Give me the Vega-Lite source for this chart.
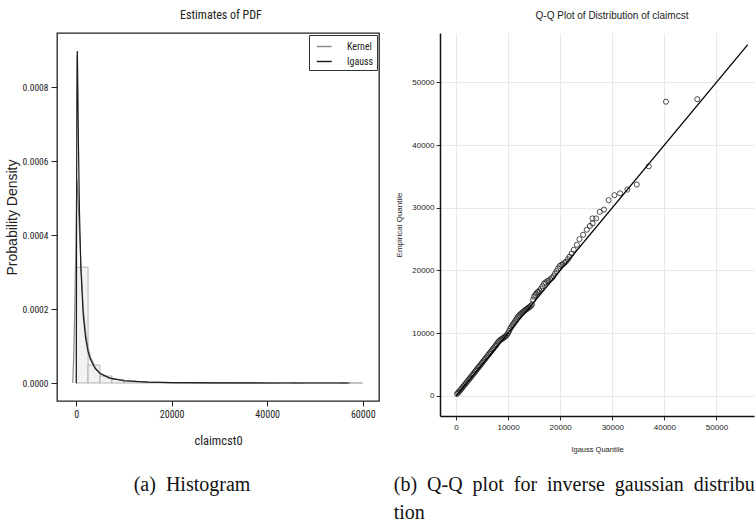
{
  "$schema": "https://vega.github.io/schema/vega-lite/v6.json",
  "background": "white",
  "padding": {"left": 4, "top": 8, "right": 0, "bottom": 0},
  "config": {
    "view": {"stroke": null},
    "title": {"fontWeight": "normal", "color": "#222"},
    "axis": {"labelColor": "#222", "titleColor": "#222", "tickColor": "#333", "titleFontWeight": "normal"}
  },
  "spacing": 13,
  "resolve": {"scale": {"color": "independent"}, "legend": {"color": "independent"}},
  "hconcat": [
    {
      "title": {"text": "(a) \u00a0Histogram", "orient": "bottom", "anchor": "middle", "font": "Liberation Serif", "fontSize": 20, "offset": 28, "color": "#111"},
      "resolve": {"scale": {"color": "independent"}, "legend": {"color": "independent"}},
      "vconcat": [
        {
          "width": 322,
          "height": 368,
          "title": {"text": "Estimates of PDF", "font": "Liberation Sans Narrow, Arial Narrow, Roboto Condensed, DejaVu Sans Condensed, Liberation Sans", "fontSize": 12, "offset": 11, "dx": 3},
          "view": {"stroke": "#222", "strokeWidth": 1.3},
          "layer": [
            {
              "mark": {"type": "rule", "color": "#e4e4e4", "strokeWidth": 1},
              "encoding": {"x": {"datum": 0, "type": "quantitative", "scale": {"domain": [-4000, 63400], "nice": false, "zero": false}}}
            },
            {
              "mark": {"type": "rule", "color": "#e4e4e4", "strokeWidth": 1},
              "encoding": {"y": {"datum": 0, "type": "quantitative", "scale": {"domain": [-0.0000486, 0.000946], "nice": false, "zero": false}}}
            },
            {
              "data": {"values": [
                {"x": 0, "x2": 2500, "y": 0.000313},
                {"x": 2500, "x2": 5000, "y": 0.0000486},
                {"x": 5000, "x2": 7500, "y": 0.0000189},
                {"x": 7500, "x2": 10000, "y": 0.0000100},
                {"x": 10000, "x2": 12500, "y": 0.0000055},
                {"x": 12500, "x2": 15000, "y": 0.0000032},
                {"x": 15000, "x2": 17500, "y": 0.0000020},
                {"x": 17500, "x2": 20000, "y": 0.0000014},
                {"x": 20000, "x2": 22500, "y": 0.0000010},
                {"x": 22500, "x2": 25000, "y": 0.0000008},
                {"x": 25000, "x2": 27500, "y": 0.0000006},
                {"x": 27500, "x2": 30000, "y": 0.0000005},
                {"x": 30000, "x2": 32500, "y": 0.0000004},
                {"x": 32500, "x2": 35000, "y": 0.0000002},
                {"x": 35000, "x2": 37500, "y": 0.0000002},
                {"x": 37500, "x2": 40000, "y": 0.0000001},
                {"x": 40000, "x2": 42500, "y": 0.0000001},
                {"x": 45000, "x2": 47500, "y": 0.0000002},
                {"x": 55000, "x2": 57500, "y": 0.0000001}
              ]},
              "mark": {"type": "rect", "fill": "#f2f2f2", "stroke": "#9a9a9a", "strokeWidth": 0.7},
              "encoding": {
                "x": {"field": "x", "type": "quantitative", "scale": {"domain": [-4000, 63400], "nice": false, "zero": false},
                  "axis": {"title": "claimcst0", "values": [0, 20000, 40000, 60000], "format": "d", "domain": false, "grid": false, "tickSize": 5, "tickColor": "#222", "labelFont": "Liberation Sans Narrow, Arial Narrow, Roboto Condensed, DejaVu Sans Condensed, Liberation Sans", "labelFontSize": 10, "labelPadding": 3, "titleFont": "Liberation Sans Narrow, Arial Narrow, Roboto Condensed, DejaVu Sans Condensed, Liberation Sans", "titleFontSize": 12.5, "titlePadding": 15}},
                "x2": {"field": "x2"},
                "y": {"field": "y", "type": "quantitative", "scale": {"domain": [-0.0000486, 0.000946], "nice": false, "zero": false},
                  "axis": {"title": "Probability Density", "values": [0, 0.0002, 0.0004, 0.0006, 0.0008], "format": ".4f", "domain": false, "grid": false, "tickSize": 6, "tickColor": "#222", "labelFont": "Liberation Sans Narrow, Arial Narrow, Roboto Condensed, DejaVu Sans Condensed, Liberation Sans", "labelFontSize": 9.5, "labelPadding": 3, "titleFont": "Liberation Sans", "titleFontSize": 14, "titlePadding": 3}},
                "y2": {"datum": 0}
              }
            },
            {
              "data": {"values": [
                {"x": -700, "y": 0, "curve": "Kernel"},
                {"x": -500, "y": 0.00007, "curve": "Kernel"},
                {"x": -300, "y": 0.00019, "curve": "Kernel"},
                {"x": -100, "y": 0.00033, "curve": "Kernel"},
                {"x": 50, "y": 0.00047, "curve": "Kernel"},
                {"x": 150, "y": 0.00055, "curve": "Kernel"},
                {"x": 300, "y": 0.00053, "curve": "Kernel"},
                {"x": 500, "y": 0.00047, "curve": "Kernel"},
                {"x": 700, "y": 0.00041, "curve": "Kernel"},
                {"x": 1000, "y": 0.00032, "curve": "Kernel"},
                {"x": 1500, "y": 0.0002, "curve": "Kernel"},
                {"x": 2000, "y": 0.000135, "curve": "Kernel"},
                {"x": 2500, "y": 0.000095, "curve": "Kernel"},
                {"x": 3000, "y": 0.00007, "curve": "Kernel"},
                {"x": 4000, "y": 0.000042, "curve": "Kernel"},
                {"x": 5000, "y": 0.000027, "curve": "Kernel"},
                {"x": 7000, "y": 0.000014, "curve": "Kernel"},
                {"x": 10000, "y": 0.0000065, "curve": "Kernel"},
                {"x": 15000, "y": 0.0000025, "curve": "Kernel"},
                {"x": 20000, "y": 0.0000012, "curve": "Kernel"},
                {"x": 30000, "y": 0.0000005, "curve": "Kernel"},
                {"x": 40000, "y": 0.0000003, "curve": "Kernel"},
                {"x": 50000, "y": 0.0000002, "curve": "Kernel"},
                {"x": 60000, "y": 0, "curve": "Kernel"},
                {"x": 0, "y": 0, "curve": "Igauss"},
                {"x": 25, "y": 0.0000001, "curve": "Igauss"},
                {"x": 50, "y": 0.0000322, "curve": "Igauss"},
                {"x": 75, "y": 0.0001927, "curve": "Igauss"},
                {"x": 100, "y": 0.0004144, "curve": "Igauss"},
                {"x": 150, "y": 0.0007457, "curve": "Igauss"},
                {"x": 200, "y": 0.0008788, "curve": "Igauss"},
                {"x": 250, "y": 0.000897, "curve": "Igauss"},
                {"x": 300, "y": 0.0008638, "curve": "Igauss"},
                {"x": 400, "y": 0.0007507, "curve": "Igauss"},
                {"x": 500, "y": 0.0006374, "curve": "Igauss"},
                {"x": 700, "y": 0.0004644, "curve": "Igauss"},
                {"x": 1000, "y": 0.000309, "curve": "Igauss"},
                {"x": 1500, "y": 0.0001814, "curve": "Igauss"},
                {"x": 2000, "y": 0.0001197, "curve": "Igauss"},
                {"x": 2500, "y": 0.0000849, "curve": "Igauss"},
                {"x": 3000, "y": 0.0000633, "curve": "Igauss"},
                {"x": 4000, "y": 0.0000388, "curve": "Igauss"},
                {"x": 5000, "y": 0.0000258, "curve": "Igauss"},
                {"x": 7000, "y": 0.0000133, "curve": "Igauss"},
                {"x": 10000, "y": 0.0000061, "curve": "Igauss"},
                {"x": 15000, "y": 0.0000022, "curve": "Igauss"},
                {"x": 20000, "y": 0.0000009, "curve": "Igauss"},
                {"x": 30000, "y": 0.0000002, "curve": "Igauss"},
                {"x": 40000, "y": 0.0000001, "curve": "Igauss"},
                {"x": 57000, "y": 0, "curve": "Igauss"}
              ]},
              "mark": {"type": "line", "strokeWidth": 1.2},
              "encoding": {
                "x": {"field": "x", "type": "quantitative", "scale": {"domain": [-4000, 63400], "nice": false, "zero": false}},
                "y": {"field": "y", "type": "quantitative", "scale": {"domain": [-0.0000486, 0.000946], "nice": false, "zero": false}},
                "color": {"field": "curve", "type": "nominal", "sort": ["Kernel", "Igauss"],
                  "scale": {"domain": ["Kernel", "Igauss"], "range": ["#8a8a8a", "#1e1e1e"]},
                  "legend": {"title": null, "orient": "top-right", "offset": 2, "padding": 3, "strokeColor": "#333", "fillColor": "white", "symbolType": "M-0.5,0H1.5", "symbolSize": 225, "symbolStrokeWidth": 1.5, "labelFont": "Liberation Sans Narrow, Arial Narrow, Roboto Condensed, DejaVu Sans Condensed, Liberation Sans", "labelFontSize": 10, "labelColor": "#222", "labelOffset": 18, "rowPadding": 1, "cornerRadius": 0}}
              }
            }
          ]
        }
      ]
    },
    {
      "title": {"text": ["(b) \u00a0Q-Q \u00a0plot \u00a0for \u00a0inverse \u00a0gaussian \u00a0distribu", "tion"], "orient": "bottom", "anchor": "start", "font": "Liberation Serif", "fontSize": 20, "lineHeight": 28, "offset": 22, "dx": -2, "color": "#111"},
      "vconcat": [
        {
          "width": 314,
          "height": 383,
          "title": {"text": "Q-Q Plot of Distribution of claimcst", "font": "Liberation Sans", "fontSize": 10, "offset": 12, "dx": 15},
          "view": {"stroke": null},
          "layer": [
            {
              "mark": {"type": "rule", "color": "#111", "strokeWidth": 1.5},
              "encoding": {"y": {"datum": 57850, "type": "quantitative", "scale": {"domain": [-3190, 57850], "nice": false, "zero": false}}}
            },
            {
              "data": {"values": [
                {"x": 200, "y": 330}, {"x": 400, "y": 520}, {"x": 600, "y": 700}, {"x": 800, "y": 900}, {"x": 1000, "y": 1110},
                {"x": 1200, "y": 1320}, {"x": 1400, "y": 1520}, {"x": 1600, "y": 1720}, {"x": 1800, "y": 1930}, {"x": 2000, "y": 2140},
                {"x": 2200, "y": 2350}, {"x": 2400, "y": 2560}, {"x": 2600, "y": 2760}, {"x": 2800, "y": 2960}, {"x": 3000, "y": 3180},
                {"x": 3200, "y": 3390}, {"x": 3400, "y": 3600}, {"x": 3600, "y": 3800}, {"x": 3800, "y": 4010}, {"x": 4000, "y": 4230},
                {"x": 4200, "y": 4440}, {"x": 4400, "y": 4640}, {"x": 4600, "y": 4850}, {"x": 4800, "y": 5060}, {"x": 5000, "y": 5280},
                {"x": 5200, "y": 5490}, {"x": 5400, "y": 5700}, {"x": 5600, "y": 5910}, {"x": 5800, "y": 6120}, {"x": 6000, "y": 6340},
                {"x": 6200, "y": 6550}, {"x": 6400, "y": 6760}, {"x": 6600, "y": 6960}, {"x": 6800, "y": 7170}, {"x": 7000, "y": 7390},
                {"x": 7200, "y": 7590}, {"x": 7400, "y": 7800}, {"x": 7600, "y": 8010}, {"x": 7800, "y": 8240}, {"x": 8000, "y": 8480},
                {"x": 8200, "y": 8700}, {"x": 8400, "y": 8860}, {"x": 8600, "y": 8980}, {"x": 8800, "y": 9090}, {"x": 9000, "y": 9200},
                {"x": 9200, "y": 9320}, {"x": 9400, "y": 9440}, {"x": 9600, "y": 9580}, {"x": 9800, "y": 9760}, {"x": 10000, "y": 10020},
                {"x": 10200, "y": 10350}, {"x": 10400, "y": 10700}, {"x": 10600, "y": 10990}, {"x": 10800, "y": 11250}, {"x": 11000, "y": 11480},
                {"x": 11200, "y": 11720}, {"x": 11400, "y": 11980}, {"x": 11600, "y": 12250}, {"x": 11800, "y": 12500}, {"x": 12000, "y": 12720},
                {"x": 12200, "y": 12900}, {"x": 12400, "y": 13060}, {"x": 12600, "y": 13200}, {"x": 12800, "y": 13340}, {"x": 13000, "y": 13480},
                {"x": 13200, "y": 13620}, {"x": 13400, "y": 13760}, {"x": 13600, "y": 13880}, {"x": 13800, "y": 14000}, {"x": 14000, "y": 14120},
                {"x": 14200, "y": 14250}, {"x": 14400, "y": 14400}, {"x": 14600, "y": 14600}, {"x": 14800, "y": 15300}, {"x": 15000, "y": 15800},
                {"x": 15200, "y": 16100}, {"x": 15400, "y": 16300}, {"x": 15600, "y": 16500}, {"x": 15800, "y": 16600}, {"x": 16000, "y": 16800},
                {"x": 16300, "y": 17100}, {"x": 16600, "y": 17500}, {"x": 16900, "y": 17900}, {"x": 17200, "y": 18100}, {"x": 17500, "y": 18300},
                {"x": 17800, "y": 18400}, {"x": 18100, "y": 18600}, {"x": 18400, "y": 18800}, {"x": 18700, "y": 19100}, {"x": 19000, "y": 19500},
                {"x": 19300, "y": 19900}, {"x": 19600, "y": 20300}, {"x": 19900, "y": 20700}, {"x": 20200, "y": 20900}, {"x": 20500, "y": 21000},
                {"x": 20800, "y": 21200}, {"x": 21100, "y": 21400}, {"x": 21500, "y": 21800}, {"x": 21800, "y": 22200}, {"x": 22200, "y": 22700},
                {"x": 22600, "y": 23300}, {"x": 23200, "y": 24100}, {"x": 23700, "y": 25000}, {"x": 24400, "y": 25700}, {"x": 25100, "y": 26500},
                {"x": 25700, "y": 27100}, {"x": 26200, "y": 27500}, {"x": 26200, "y": 28300}, {"x": 26900, "y": 28300}, {"x": 27600, "y": 29350},
                {"x": 28400, "y": 29700}, {"x": 29300, "y": 31200}, {"x": 30400, "y": 32000}, {"x": 31500, "y": 32300}, {"x": 32900, "y": 32900},
                {"x": 34700, "y": 33700}, {"x": 37000, "y": 36600}, {"x": 40300, "y": 46900}, {"x": 46300, "y": 47300}
              ]},
              "mark": {"type": "point", "shape": "circle", "filled": false, "color": "#222", "size": 26, "strokeWidth": 0.8, "opacity": 1},
              "encoding": {
                "x": {"field": "x", "type": "quantitative", "scale": {"domain": [-3070, 57200], "nice": false, "zero": false},
                  "axis": {"title": "Igauss Quantile", "values": [0, 10000, 20000, 30000, 40000, 50000], "format": "d", "grid": true, "gridColor": "#e8e8e8", "domain": true, "domainColor": "#111", "domainWidth": 1.5, "tickSize": 4, "labelFont": "Liberation Sans", "labelFontSize": 8, "labelPadding": 3, "titleFont": "Liberation Sans", "titleFontSize": 7.5, "titlePadding": 14}},
                "y": {"field": "y", "type": "quantitative", "scale": {"domain": [-3190, 57850], "nice": false, "zero": false},
                  "axis": {"title": "Empirical Quantile", "values": [0, 10000, 20000, 30000, 40000, 50000], "format": "d", "grid": true, "gridColor": "#e8e8e8", "domain": true, "domainColor": "#111", "domainWidth": 1.5, "tickSize": 4, "labelFont": "Liberation Sans", "labelFontSize": 8, "labelPadding": 2, "titleFont": "Liberation Sans", "titleFontSize": 8, "titlePadding": 8}}
              }
            },
            {
              "data": {"values": [{"x": 0, "y": 0}, {"x": 56000, "y": 56000}]},
              "mark": {"type": "line", "color": "#000", "strokeWidth": 1.3},
              "encoding": {
                "x": {"field": "x", "type": "quantitative", "scale": {"domain": [-3070, 57200], "nice": false, "zero": false}},
                "y": {"field": "y", "type": "quantitative", "scale": {"domain": [-3190, 57850], "nice": false, "zero": false}}
              }
            }
          ]
        }
      ]
    }
  ]
}
